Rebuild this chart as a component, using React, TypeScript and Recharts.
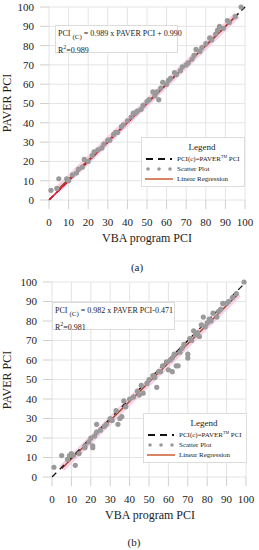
import React from 'react';
import { ScatterChart, Scatter, XAxis, YAxis, CartesianGrid, ReferenceLine } from 'recharts';

const TICKS = [0, 10, 20, 30, 40, 50, 60, 70, 80, 90, 100];

// (a) VBA program PCI vs PAVER PCI
const A_VBA = [1, 4, 5, 9, 10, 12, 14, 15, 17, 18, 20, 22, 23, 25, 27, 28, 30, 31, 33, 34, 35, 37, 38, 40, 42, 43, 44, 45, 47, 48, 50, 51, 53, 54, 55, 56, 57, 58, 60, 61, 62, 64, 65, 67, 68, 70, 71, 73, 74, 75, 77, 78, 80, 82, 83, 85, 86, 87, 89, 91, 92, 95, 98];
const A_PAVER = [5, 6, 11, 11, 10, 13, 14, 16, 17, 21, 20, 23, 25, 26, 27, 29, 31, 31, 34, 35, 35, 38, 39, 41, 43, 45, 45, 46, 47, 49, 51, 52, 56, 54, 56, 52, 58, 61, 60, 62, 63, 66, 65, 67, 69, 70, 71, 73, 75, 78, 77, 79, 81, 84, 83, 86, 88, 90, 89, 93, 92, 95, 100];
const A_IDENTITY = [{ x: 0, y: 0 }, { x: 100, y: 100 }];
const A_RED = [{ x: 0, y: 0 }, { x: 96, y: 96 }];
const A_REG = [{ x: 4, y: 4.9 }, { x: 96, y: 95.9 }];

// (b)
const B_VBA = [1, 5, 8, 9, 10, 11, 12, 14, 17, 17, 19, 20, 21, 21, 22, 23, 23, 25, 27, 28, 30, 31, 33, 34, 35, 36, 37, 38, 40, 42, 44, 45, 46, 47, 49, 50, 52, 53, 54, 55, 56, 57, 59, 60, 61, 62, 62, 63, 64, 65, 66, 67, 68, 70, 70, 71, 72, 73, 74, 75, 76, 77, 78, 79, 80, 81, 82, 83, 85, 86, 87, 88, 90, 91, 93, 95, 99];
const B_PAVER = [5, 11, 9, 11, 12, 11, 6, 12, 15, 16, 18, 20, 15, 16, 21, 23, 27, 24, 26, 27, 30, 29, 34, 27, 30, 31, 39, 36, 40, 41, 44, 42, 47, 43, 48, 50, 52, 51, 46, 54, 54, 57, 59, 55, 60, 54, 61, 63, 57, 57, 64, 66, 68, 63, 61, 71, 70, 75, 73, 74, 72, 78, 82, 77, 79, 81, 80, 84, 82, 85, 86, 89, 89, 90, 92, 94, 100];
const B_IDENTITY = [{ x: 0, y: 0 }, { x: 100, y: 100 }];
const B_REG = [{ x: 5, y: 4.4 }, { x: 96, y: 93.8 }];

const toPts = (xs: number[], ys: number[]) => xs.map((x, i) => ({ x, y: ys[i] }));

const FONT = '"Liberation Serif", "DejaVu Serif", serif';
const GRID = '#e4e4e4';
const DOT = '#9a9a9a';
const REG = '#9c4a22';

const Dot = (p: any) => <circle cx={p.cx} cy={p.cy} r={2.6} fill={DOT} />;

function LegendBox({ left, top }: { left: number; top: number }) {
    const row = { display: 'flex', alignItems: 'center', height: 10 } as const;
    return (
        <div style={{ position: 'absolute', left, top, width: 104, height: 50, background: '#fff', border: '1px solid #dcdcdc', boxSizing: 'border-box', fontSize: 7, color: '#222', lineHeight: 1 }}>
            <div style={{ textAlign: 'center', fontSize: 9, marginTop: 5, marginBottom: 2, paddingLeft: 18 }}>Legend</div>
            <div style={row}>
                <svg width={30} height={8} style={{ marginLeft: 2 }}>
                    <line x1={2} y1={4} x2={28} y2={4} stroke="#111" strokeWidth={2} strokeDasharray="7 5" />
                </svg>
                <span style={{ marginLeft: 3 }}>PCI(c)=PAVER<sup style={{ fontSize: 4 }}>TM</sup> PCI</span>
            </div>
            <div style={row}>
                <svg width={30} height={8} style={{ marginLeft: 2 }}>
                    <circle cx={4} cy={4} r={1.8} fill={DOT} />
                    <circle cx={15} cy={4} r={1.8} fill={DOT} />
                    <circle cx={26} cy={4} r={1.8} fill={DOT} />
                </svg>
                <span style={{ marginLeft: 3 }}>Scatter Plot</span>
            </div>
            <div style={row}>
                <svg width={30} height={8} style={{ marginLeft: 2 }}>
                    <line x1={1} y1={4} x2={29} y2={4} stroke="#d0673f" strokeWidth={1.6} />
                </svg>
                <span style={{ marginLeft: 3 }}>Linear Regression</span>
            </div>
        </div>
    );
}

function EqBox({ left, top, eq, r2 }: { left: number; top: number; eq: string; r2: string }) {
    return (
        <div style={{ position: 'absolute', left, top, width: 123, height: 28, background: '#fff', border: '1px solid #dcdcdc', boxSizing: 'border-box', fontSize: 8, color: '#222', lineHeight: 1, paddingLeft: 2 }}>
            <div style={{ marginTop: 4, whiteSpace: 'nowrap' }}>PCI <sub style={{ fontSize: 7 }}>(C)</sub> {eq}</div>
            <div style={{ marginTop: 3 }}>R<sup style={{ fontSize: 6 }}>2</sup>={r2}</div>
        </div>
    );
}

function Panel({ top, left, yw, right, plotH, data, lines }: any) {
    return (
        <div style={{ position: 'absolute', top, left: 0 }}>
            <ScatterChart width={259} height={7 + plotH + 46} margin={{ top: 7, right, left, bottom: 0 }}>
                <CartesianGrid stroke={GRID} />
                <XAxis type="number" dataKey="x" domain={[0, 100]} ticks={TICKS} interval={0} height={46}
                    tickSize={9} tickMargin={9} axisLine={false} tickLine={{ stroke: '#cfcfcf' }}
                    tick={{ fontSize: 11, fill: '#222', fontFamily: FONT }} />
                <YAxis type="number" dataKey="y" domain={[0, 100]} ticks={TICKS} interval={0} width={yw}
                    tickSize={9} tickMargin={6} axisLine={false} tickLine={{ stroke: '#cfcfcf' }}
                    tick={{ fontSize: 11, fill: '#222', fontFamily: FONT }} />
                {lines}
                <Scatter data={data} shape={Dot} isAnimationActive={false} />
            </ScatterChart>
        </div>
    );
}

export default function App() {
    const linesA = [
        <ReferenceLine key="h" segment={A_REG} stroke="#f6c4e2" strokeWidth={7} strokeOpacity={0.8} />,
        <ReferenceLine key="i" segment={A_IDENTITY} stroke="#111" strokeWidth={1.5} strokeDasharray="6 4" />,
        <ReferenceLine key="r" segment={A_RED} stroke="#e8102c" strokeWidth={1.6} />,
        <ReferenceLine key="g" segment={A_REG} stroke={REG} strokeWidth={1.4} />,
    ];
    const linesB = [
        <ReferenceLine key="h" segment={B_REG} stroke="#f6c4e2" strokeWidth={7} strokeOpacity={0.8} />,
        <ReferenceLine key="g" segment={B_REG} stroke={REG} strokeWidth={1.5} />,
        <ReferenceLine key="i" segment={B_IDENTITY} stroke="#111" strokeWidth={1.3} strokeDasharray="6 5" />,
    ];
    return (
        <div style={{ position: 'absolute', left: 0, top: 0, width: 259, height: 550, background: '#fff', fontFamily: FONT, color: '#222' }}>
            <Panel top={0} left={0} yw={49} right={14} plotH={193} data={toPts(A_VBA, A_PAVER)} lines={linesA} />
            <Panel top={275} left={0} yw={52} right={13} plotH={195} data={toPts(B_VBA, B_PAVER)} lines={linesB} />

            <div style={{ position: 'absolute', left: 7, top: 103, transform: 'translate(-50%, -50%) rotate(-90deg)', fontSize: 12, whiteSpace: 'nowrap' }}>PAVER PCI</div>
            <div style={{ position: 'absolute', left: 147, top: 238, transform: 'translate(-50%, -50%)', fontSize: 12, whiteSpace: 'nowrap' }}>VBA program PCI</div>
            <div style={{ position: 'absolute', left: 137, top: 267, transform: 'translate(-50%, -50%)', fontSize: 11 }}>(a)</div>

            <div style={{ position: 'absolute', left: 7, top: 380, transform: 'translate(-50%, -50%) rotate(-90deg)', fontSize: 12, whiteSpace: 'nowrap' }}>PAVER PCI</div>
            <div style={{ position: 'absolute', left: 150, top: 515, transform: 'translate(-50%, -50%)', fontSize: 12, whiteSpace: 'nowrap' }}>VBA program PCI</div>
            <div style={{ position: 'absolute', left: 134, top: 542, transform: 'translate(-50%, -50%)', fontSize: 11 }}>(b)</div>

            <EqBox left={55} top={25} eq="= 0.989 x PAVER PCI + 0.990" r2="0.989" />
            <EqBox left={52} top={302} eq="= 0.982 x PAVER PCI-0.471" r2="0.981" />

            <LegendBox left={141} top={137} />
            <LegendBox left={143} top={413} />
        </div>
    );
}
